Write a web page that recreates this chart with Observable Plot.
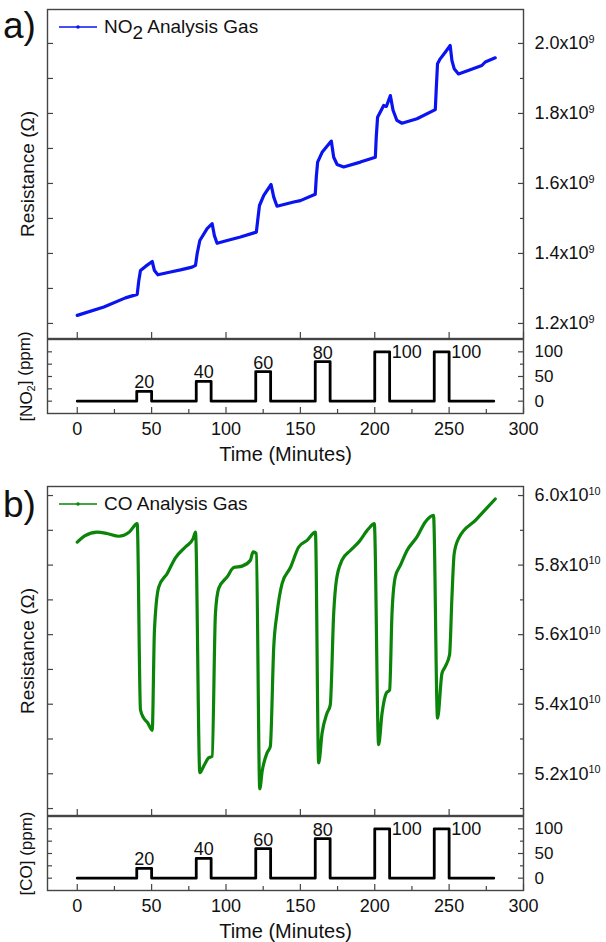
<!DOCTYPE html>
<html><head><meta charset="utf-8">
<script src="https://cdn.jsdelivr.net/npm/d3@7"></script>
<script src="https://cdn.jsdelivr.net/npm/@observablehq/plot@0.6"></script>
<style>
body{margin:0;background:#fff;}
#root{position:relative;width:606px;height:942px;font-family:"Liberation Sans",Arial,sans-serif;color:#111;overflow:hidden;}
.abs{position:absolute;}
.plabel{font-size:37px;line-height:1;}
.legend{font-size:19px;line-height:1;display:flex;align-items:center;white-space:nowrap;}
.legend sub{font-size:1em;vertical-align:-0.3em;line-height:0;}
svg.plot-svg{background:none;}
</style></head><body><div id="root"></div>
<script>
// ---------- data ----------
const no2Time = [0,17.9,32.4,40.3,41.4,42.5,45.9,50.4,51.9,54.2,62.7,69.4,77.2,79.5,80.6,82.4,87.3,90.7,92.2,94,100.8,109.7,120.4,121.3,122.5,125.4,130.3,132.1,134.3,145.5,150,160,160.7,161.6,164.6,170.8,172.4,174.7,179.1,190.3,200.4,201,201.9,206,207.8,210.5,212.3,214.9,218.3,228.4,240.7,241.4,242.2,244,247.4,250.7,251.9,253.4,256.3,264.2,272,274.3,281];
const no2Res = [1.223,1.247,1.273,1.283,1.323,1.351,1.363,1.377,1.351,1.339,1.347,1.353,1.361,1.366,1.399,1.437,1.471,1.485,1.451,1.429,1.437,1.447,1.461,1.494,1.537,1.566,1.597,1.561,1.535,1.547,1.551,1.569,1.618,1.661,1.689,1.721,1.675,1.654,1.647,1.661,1.675,1.732,1.789,1.823,1.82,1.851,1.809,1.78,1.772,1.785,1.811,1.875,1.942,1.956,1.975,1.994,1.951,1.928,1.913,1.925,1.937,1.947,1.959]; // x1e9 ohm

const coTime = [0,5,13.4,20,27.9,35,40.3,42.5,44.7,47.4,50.4,51.9,54.8,60.5,66,72.7,77.9,79.5,82.4,85,88.4,90.7,92.9,95.1,100.8,105.2,110.8,116.4,118.2,120.4,122.7,124.3,127.6,129.8,132.1,134.3,137.7,143.3,148.9,154.5,160.1,162.3,164.6,167.9,170.1,172.4,174.2,178,183.6,189.2,195.9,199.7,202.6,204.9,207.8,210,211.6,213.8,217.2,221.7,228.4,234,239.5,242.2,245.2,247.4,250.3,251.9,253.4,256.3,268,281];
const coRes = [5.866,5.884,5.895,5.891,5.883,5.895,5.919,5.384,5.36,5.346,5.325,5.613,5.737,5.776,5.821,5.852,5.876,5.895,5.203,5.222,5.246,5.25,5.661,5.733,5.766,5.793,5.797,5.814,5.838,5.833,5.157,5.207,5.26,5.279,5.565,5.661,5.747,5.793,5.852,5.871,5.895,5.231,5.317,5.374,5.398,5.661,5.756,5.814,5.842,5.866,5.905,5.919,5.284,5.374,5.432,5.441,5.661,5.766,5.799,5.842,5.881,5.924,5.943,5.36,5.489,5.508,5.542,5.709,5.833,5.876,5.93,5.99]; // x1e10 ohm

const pulseTime = [0,40,50,80,90,120,130,160,170,200,210,240,250,280];
const pulseConc = [0,20,0,40,0,60,0,80,0,100,0,100,0,0];
const pulseLabelTime = [45,85,125,165,210,250];
const pulseLabelConc = [20,40,60,80,100,100];
const pulseLabelText = ["20","40","60","80","100","100"];

const timeTicks = [0,50,100,150,200,250,300];
const timeMinor = [25,75,125,175,225,275];
const concTicks = [0,50,100];
const concMinor = [25,75];
const no2Ticks = [1.2,1.4,1.6,1.8,2.0];
const no2Minor = [1.3,1.5,1.7,1.9];
const coTicks = [5.2,5.4,5.6,5.8,6.0];
const coMinor = [5.1,5.3,5.5,5.7,5.9];

// ---------- helpers ----------
const root = document.getElementById("root");
const FONT = "'Liberation Sans', Arial, sans-serif";
const AX = "#444";
const W = 606, ML = 47, MR = 83;

function place(el, top, left = 0){
  el.style.position = "absolute"; el.style.top = top + "px"; el.style.left = left + "px";
  el.classList.add("plot-svg"); el.style.background = "none"; el.style.overflow = "visible";
  root.appendChild(el); return el;
}
function richText(svg){
  svg.querySelectorAll("text").forEach(t => {
    const s = t.textContent;
    if (s.includes("^")) {
      const [b, e] = s.split("^");
      t.textContent = b;
      const ts = document.createElementNS("http://www.w3.org/2000/svg","tspan");
      ts.setAttribute("dy","-0.6em"); ts.setAttribute("font-size","0.6em"); ts.textContent = e;
      t.appendChild(ts);
    } else if (s.includes("_")) {
      const m = s.match(/^(.*?)_(.)(.*)$/);
      t.textContent = m[1];
      const ts = document.createElementNS("http://www.w3.org/2000/svg","tspan");
      ts.setAttribute("dy","0.3em"); ts.setAttribute("font-size","0.65em"); ts.textContent = m[2];
      const rest = document.createElementNS("http://www.w3.org/2000/svg","tspan");
      rest.setAttribute("dy","-0.3em"); rest.textContent = m[3];
      t.appendChild(ts); t.appendChild(rest);
    }
  });
}

function mainPlot({time, res, scale, exp, domain, ticks, minor, color, curve}){
  const data = time.map((t,i) => ({t, r: res[i]*scale}));
  const all = [...ticks, ...minor].sort((a,b)=>a-b).map(v => v*scale);
  return Plot.plot({
    width: W, height: 339, marginTop: 9, marginBottom: 1, marginLeft: ML, marginRight: MR,
    style: {fontFamily: FONT, fontSize: "18px", color: "#111", background: "none"},
    x: {domain: [-20, 300]},
    y: {domain: domain.map(v => v*scale)},
    marks: [
      Plot.line(data, {x: "t", y: "r", stroke: color, strokeWidth: 3.2, curve, strokeLinejoin: "round"}),
      Plot.axisY(ticks.map(v=>v*scale), {anchor: "right", tickSize: -6, tickPadding: 17, stroke: AX, strokeWidth: 1.2, fill: "#111", fontSize: 18,
        tickFormat: d => (d/scale).toFixed(1) + "x10^" + exp, label: null}),
      Plot.axisY(minor.map(v=>v*scale), {anchor: "right", tickSize: -4, stroke: AX, strokeWidth: 1.2, tickFormat: () => "", label: null}),
      Plot.axisY(all, {anchor: "left", tickSize: -6, stroke: AX, strokeWidth: 1.2, tickFormat: () => "",
        label: "Resistance (Ω)", labelAnchor: "center", labelOffset: 27, labelArrow: false, fontSize: 19}),
      Plot.axisX(timeTicks, {anchor: "bottom", tickSize: -6, stroke: AX, strokeWidth: 1.2, tickFormat: () => "", label: null}),
      Plot.frame({stroke: AX, strokeWidth: 1.4})
    ]
  });
}

function pulsePlot(ylabel){
  const data = pulseTime.map((t,i) => ({t, c: pulseConc[i]}));
  const labs = pulseLabelTime.map((t,i) => ({t, c: pulseLabelConc[i], s: pulseLabelText[i]}));
  return Plot.plot({
    width: W, height: 128, marginTop: 1, marginBottom: 53, marginLeft: ML, marginRight: MR,
    style: {fontFamily: FONT, fontSize: "18px", color: "#111", background: "none"},
    x: {domain: [-20, 300]},
    y: {domain: [-25, 125]},
    marks: [
      Plot.line(data, {x: "t", y: "c", curve: "step-after", stroke: "#000", strokeWidth: 2.8}),
      Plot.text(labs.filter(d => d.c < 100), {x: "t", y: "c", text: "s", lineAnchor: "bottom", dy: -3, fontSize: 18, fill: "#111"}),
      Plot.text(labs.filter(d => d.c >= 100), {x: "t", y: "c", text: "s", textAnchor: "start", lineAnchor: "middle", dx: 2, fontSize: 18, fill: "#111"}),
      Plot.axisY(concTicks, {anchor: "right", tickSize: -6, tickPadding: 17, stroke: AX, strokeWidth: 1.2, fill: "#111", fontSize: 17, label: null}),
      Plot.axisY(concMinor, {anchor: "right", tickSize: -4, stroke: AX, strokeWidth: 1.2, tickFormat: () => "", label: null}),
      Plot.axisY([0,25,50,75,100], {anchor: "left", tickSize: -5, stroke: AX, strokeWidth: 1.2, tickFormat: () => "",
        label: ylabel, labelAnchor: "center", labelOffset: 28, labelArrow: false, fontSize: 17}),
      Plot.axisX(timeTicks, {anchor: "bottom", tickSize: -6, tickPadding: 15, stroke: AX, strokeWidth: 1.2, fill: "#111", fontSize: 18,
        label: "Time (Minutes)", labelAnchor: "center", labelOffset: 47, labelArrow: false}),
      Plot.axisX(timeMinor, {anchor: "bottom", tickSize: -4, stroke: AX, strokeWidth: 1.2, tickFormat: () => "", label: null}),
      Plot.frame({stroke: AX, strokeWidth: 1.4})
    ]
  });
}

// ---------- panel a ----------
const a1 = mainPlot({time: no2Time, res: no2Res, scale: 1e9, exp: 9, domain: [1.157, 2.097], ticks: no2Ticks, minor: no2Minor, color: "#0a14f0", curve: "linear"});
richText(a1); place(a1, 0);
const a2 = pulsePlot("[NO_2] (ppm)");
richText(a2); place(a2, 338);

// ---------- panel b ----------
const b1 = mainPlot({time: coTime, res: coRes, scale: 1e10, exp: 10, domain: [5.08, 6.026], ticks: coTicks, minor: coMinor, color: "#0a850a", curve: "monotone-x"});
richText(b1); place(b1, 477);
const b2 = pulsePlot("[CO] (ppm)");
richText(b2); place(b2, 815);

// axis titles a bit larger
[a2, b2].forEach(s => s.querySelectorAll('g[aria-label="x-axis label"] text').forEach(t => t.setAttribute("font-size", "20")));

// ---------- panel letters & legends ----------
function addDiv(html, cls, top, left){
  const d = document.createElement("div"); d.className = "abs " + cls; d.innerHTML = html;
  d.style.top = top + "px"; d.style.left = left + "px"; root.appendChild(d); return d;
}
addDiv("a)", "plabel", 7, 3);
addDiv("b)", "plabel", 486, 3);
const sw = c => `<svg width="40" height="10" style="margin-right:5px"><line x1="0" y1="5" x2="38" y2="5" stroke="${c}" stroke-width="1.3"/><circle cx="19" cy="5" r="1.8" fill="${c}"/></svg>`;
addDiv(sw("#0a14f0") + "<span>NO<sub>2</sub> Analysis Gas</span>", "legend", 17, 59);
addDiv(sw("#0a850a") + "<span>CO Analysis Gas</span>", "legend", 494, 59);
</script>
</body></html>
